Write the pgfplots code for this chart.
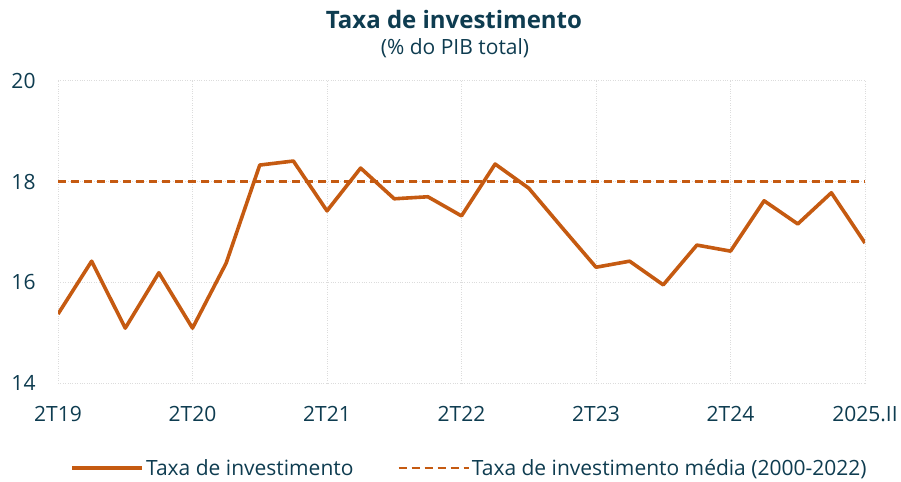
\documentclass[border=0pt]{standalone}
\usepackage{fontspec}
\setmainfont{Open Sans}
\usepackage{pgfplots}
\pgfplotsset{compat=1.18}
\definecolor{linec}{HTML}{C55A11}
\definecolor{textc}{HTML}{0E3C50}
\definecolor{gridc}{HTML}{DCDCDC}
\begin{document}
\begin{tikzpicture}
\useasboundingbox (-58bp,-99bp) rectangle (843bp,383bp);
\begin{axis}[
    at={(0,0)}, anchor=south west,
    scale only axis,
    width=807bp, height=302bp,
    xmin=0, xmax=24, ymin=14, ymax=20,
    xtick={0,4,...,24},
    xticklabels={2T19,2T20,2T21,2T22,2T23,2T24,2025.II},
    ytick={14,16,18,20},
    axis line style={draw=none},
    major tick length=0pt,
    grid=major,
    grid style={dotted, color=gridc, line width=1bp},
    /pgf/number format/assume math mode=true,
    ticklabel style={font=\fontsize{21bp}{25bp}\selectfont, text=textc},
    xticklabel style={anchor=center, yshift=-31bp},
    yticklabel style={anchor=center, xshift=-34.5bp},
    legend columns=2,
    legend style={at={(0.5100,-0.2815)}, anchor=center, draw=none, fill=none,
        font=\fontsize{21bp}{25bp}\selectfont, text=textc,
        /tikz/every even column/.append style={column sep=42bp}},
    legend image code/.code={\draw[#1] (0bp,0bp) -- (70bp,0bp);},
]
\addplot[linec, line width=3.6bp, line join=round] coordinates {
(0,15.37) (1,16.42) (2,15.09) (3,16.19) (4,15.09) (5,16.38) (6,18.33)
(7,18.41) (8,17.42) (9,18.27) (10,17.66) (11,17.70) (12,17.32) (13,18.35)
(14,17.87) (15,17.08) (16,16.30) (17,16.42) (18,15.95) (19,16.74) (20,16.62)
(21,17.62) (22,17.16) (23,17.78) (24,16.78)};
\addlegendentry{Taxa de investimento}
\addplot[linec, line width=2.4bp, dash pattern=on 8bp off 5bp] coordinates {(0,18) (24,18)};
\addlegendentry{Taxa de investimento média (2000-2022)}
\end{axis}
\node[anchor=base, text=textc, font=\fontsize{24bp}{28bp}\selectfont\bfseries] at (396bp,354bp) {Taxa de investimento};
\node[anchor=base, text=textc, font=\fontsize{21bp}{25bp}\selectfont] at (397bp,328bp) {(\% do PIB total)};
\end{tikzpicture}
\end{document}
